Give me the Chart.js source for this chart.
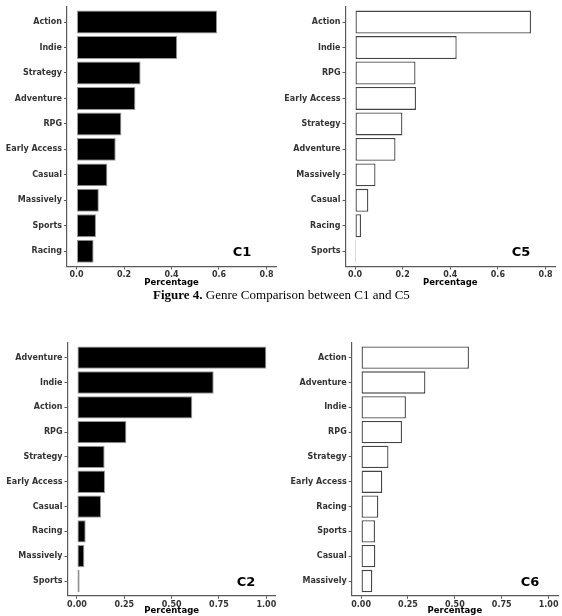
<!DOCTYPE html>
<html>
<head>
<meta charset="utf-8">
<script src="https://cdn.jsdelivr.net/npm/chart.js@4.4.1/dist/chart.umd.min.js"></script>
<style>
  html, body { margin: 0; padding: 0; background: #fff; }
  body { width: 562px; height: 616px; position: relative; overflow: hidden; }
  .box { position: absolute; }
  .tag { position: absolute; font: bold 13px "DejaVu Sans", sans-serif; color: #000; transform: translate(-50%, -50%); }
  .caption { position: absolute; left: 153px; top: 287px; font: 13px "Liberation Serif", serif; color: #000; white-space: nowrap; }
</style>
</head>
<body>
<div class="box" style="left:0;top:0;width:281px;height:290px"><canvas id="c1"></canvas></div>
<div class="box" style="left:281px;top:0;width:281px;height:290px"><canvas id="c5"></canvas></div>
<div class="box" style="left:0;top:330px;width:281px;height:286px"><canvas id="c2"></canvas></div>
<div class="box" style="left:281px;top:330px;width:281px;height:286px"><canvas id="c6"></canvas></div>
<div class="tag" style="left:242px;top:251px">C1</div>
<div class="tag" style="left:521px;top:251px">C5</div>
<div class="tag" style="left:246px;top:581px">C2</div>
<div class="tag" style="left:530px;top:581px">C6</div>
<div class="caption"><b>Figure 4.</b> Genre Comparison between C1 and C5</div>
<script>
// genre shares per cluster, top to bottom as shown
const c1Genres = ['Action', 'Indie', 'Strategy', 'Adventure', 'RPG', 'Early Access', 'Casual', 'Massively', 'Sports', 'Racing'];
const c1Values = [0.592, 0.424, 0.270, 0.248, 0.189, 0.165, 0.130, 0.094, 0.082, 0.072];

const c5Genres = ['Action', 'Indie', 'RPG', 'Early Access', 'Strategy', 'Adventure', 'Massively', 'Casual', 'Racing', 'Sports'];
const c5Values = [0.739, 0.427, 0.254, 0.256, 0.199, 0.170, 0.086, 0.056, 0.025, 0.004];

const c2Genres = ['Adventure', 'Indie', 'Action', 'RPG', 'Strategy', 'Early Access', 'Casual', 'Racing', 'Massively', 'Sports'];
const c2Values = [1.000, 0.722, 0.609, 0.261, 0.146, 0.148, 0.127, 0.046, 0.039, 0.014];

const c6Genres = ['Action', 'Adventure', 'Indie', 'RPG', 'Strategy', 'Early Access', 'Racing', 'Sports', 'Casual', 'Massively'];
const c6Values = [0.575, 0.343, 0.239, 0.218, 0.146, 0.113, 0.092, 0.074, 0.076, 0.060];

const ticksTop = [0, 0.2, 0.4, 0.6, 0.8];
const ticksBottom = [0, 0.25, 0.5, 0.75, 1.0];

const axisColor = '#5a5a5a';
const labelFont = { family: 'DejaVu Sans', size: 8, weight: 'bold' };

function makeChart(id, genres, values, filled, xTicks, xMax, digits, geo) {
  const pad = xMax * 0.05;
  new Chart(document.getElementById(id), {
    type: 'bar',
    data: {
      datasets: [{
        data: values.map((v, i) => ({ x: v, y: i })),
        backgroundColor: filled ? '#000' : '#fff',
        borderColor: filled ? '#9a9a9a' : '#444',
        borderWidth: filled ? 1 : 1.3,
        borderSkipped: false,
        barPercentage: 0.9,
        categoryPercentage: 1
      }]
    },
    options: {
      indexAxis: 'y',
      responsive: true,
      maintainAspectRatio: false,
      animation: false,
      layout: { padding: { top: geo.top, right: geo.right, bottom: 0, left: 0 } },
      plugins: { legend: { display: false }, tooltip: { enabled: false } },
      scales: {
        x: {
          type: 'linear',
          min: -pad,
          max: xMax + pad,
          afterBuildTicks: axis => { axis.ticks = xTicks.map(v => ({ value: v })); },
          afterFit: axis => { axis.height = geo.xh; },
          ticks: {
            color: '#333',
            font: labelFont,
            padding: 1,
            maxRotation: 0,
            autoSkip: false,
            callback: v => v.toFixed(digits)
          },
          grid: { drawOnChartArea: false, drawTicks: true, tickLength: 3, color: axisColor },
          border: { display: true, color: axisColor, width: 1.2 },
          title: {
            display: true,
            text: 'Percentage',
            color: '#000',
            font: { family: 'DejaVu Sans', size: 8.5, weight: 'bold' },
            padding: { top: 0, bottom: geo.tb }
          }
        },
        y: {
          type: 'linear',
          reverse: true,
          offset: false,
          min: -0.6,
          max: genres.length - 0.4,
          afterBuildTicks: axis => { axis.ticks = genres.map((g, i) => ({ value: i })); },
          afterFit: axis => { axis.width = geo.yw; },
          ticks: {
            color: '#333',
            font: labelFont,
            padding: 2,
            autoSkip: false,
            callback: v => genres[v]
          },
          grid: { offset: false, drawOnChartArea: false, drawTicks: true, tickLength: 3, color: axisColor },
          border: { display: true, color: axisColor, width: 1.2 }
        }
      }
    }
  });
}

makeChart('c1', c1Genres, c1Values, true, ticksTop, 0.8, 1, { top: 3.5, right: 5, xh: 23.5, yw: 67, tb: 2 });
makeChart('c5', c5Genres, c5Values, false, ticksTop, 0.8, 1, { top: 3.5, right: 7, xh: 23.5, yw: 64.5, tb: 2 });
makeChart('c2', c2Genres, c2Values, true, ticksBottom, 1.0, 2, { top: 12.8, right: 5.2, xh: 20.1, yw: 67.5, tb: 0 });
makeChart('c6', c6Genres, c6Values, false, ticksBottom, 1.0, 2, { top: 12.8, right: 4, xh: 20.1, yw: 70.7, tb: 0 });
</script>
</body>
</html>
